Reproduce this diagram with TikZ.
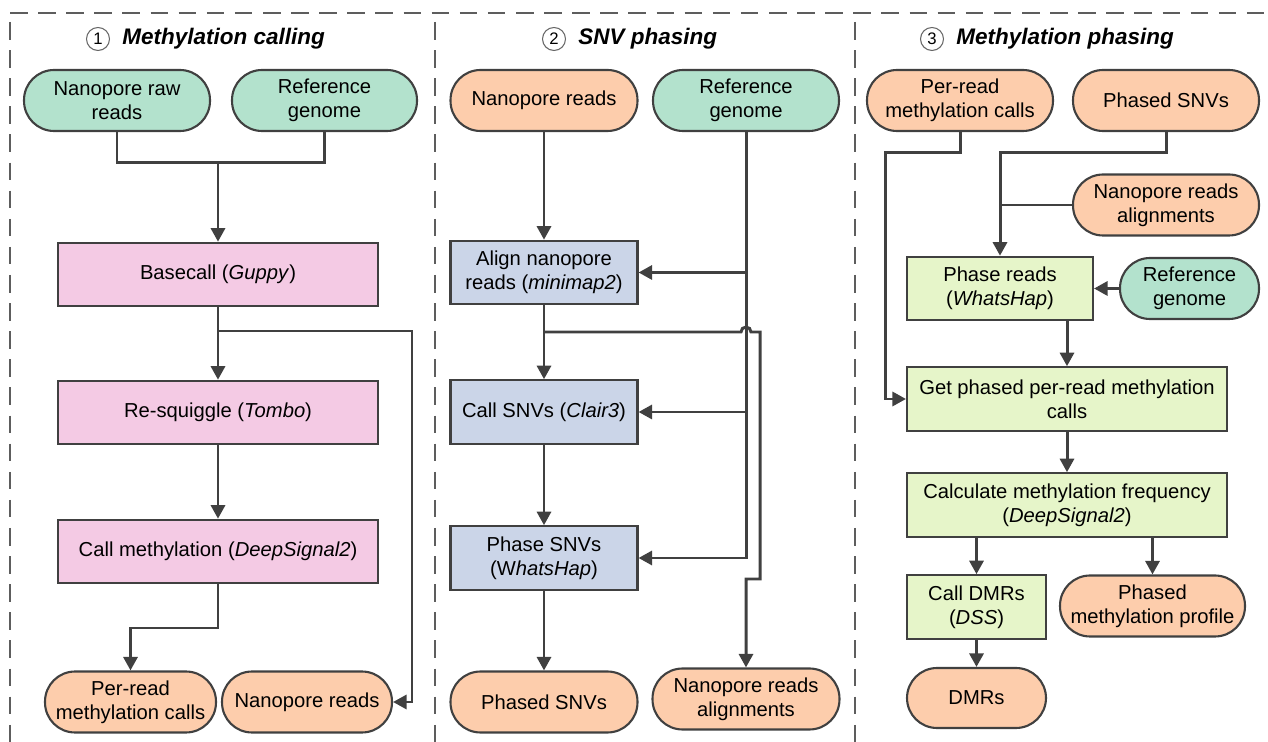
\documentclass[tikz,border=0pt]{standalone}
\usepackage{fontspec}
\setmainfont{Liberation Sans}
\usetikzlibrary{arrows.meta, calc, positioning}
\definecolor{mint}{HTML}{B3E2CD}
\definecolor{peach}{HTML}{FDCDAC}
\definecolor{lilac}{HTML}{CBD5E8}
\definecolor{rosepink}{HTML}{F4CAE4}
\definecolor{palelime}{HTML}{E6F5C9}
\definecolor{linegray}{HTML}{404040}
\tikzstyle{inout} = [rectangle, rounded corners=0.6cm, draw=linegray, line width=1.2pt,
	align=center, minimum height=1.22cm, inner sep=1pt]
\tikzstyle{proc} = [rectangle, draw=linegray, line width=1.2pt, align=center,
	minimum height=1.27cm, inner sep=1pt]
\tikzstyle{link} = [draw=linegray, line width=1.7pt]
\tikzstyle{arrow} = [link, -{Triangle[length=0.27cm, width=0.28cm]}]
\tikzstyle{frame} = [draw=linegray!85, line width=1.1pt, dash pattern=on 10pt off 6pt]
\tikzstyle{numcirc} = [circle, draw=linegray!80, fill=white, line width=0.6pt,
	minimum size=0.46cm, inner sep=0pt, font=\fontsize{9.5}{9.5}\selectfont]
\tikzstyle{title} = [inner sep=0pt, font=\fontsize{12.8}{14}\selectfont\bfseries\itshape]

\begin{document}
\begin{tikzpicture}[x=0.02cm, y=-0.02cm, font=\fontsize{11.5}{13.6}\selectfont]
	\useasboundingbox (0,0) rectangle (1268,742);

	% dashed frame
	\draw[frame] (10,13) -- (1268,13);
	\draw[frame] (10,22) -- (10,742);
	\draw[frame] (435,22) -- (435,742);
	\draw[frame] (855,22) -- (855,742);

	% 1 methylation calling
	\node[numcirc] (n1) at (98,39) {1};
	\node[title, right=0.24cm of n1] {Methylation calling};

	\node (rawreads) [inout, fill=mint, minimum width=3.72cm] at (117,100.5) {Nanopore raw\\reads};
	\node (refA) [inout, fill=mint, minimum width=3.7cm] at (324.5,100.5) {Reference\\genome};
	\node (basecall) [proc, fill=rosepink, minimum width=6.4cm] at (218,274.5) {Basecall (\textit{Guppy})};
	\node (resquiggle) [proc, fill=rosepink, minimum width=6.4cm] at (218,412.5) {Re-squiggle (\textit{Tombo})};
	\node (callmeth) [proc, fill=rosepink, minimum width=6.4cm] at (218,551.5) {Call methylation (\textit{DeepSignal2})};
	\node (permeth) [inout, fill=peach, minimum width=3.42cm] at (130.5,702) {Per-read\\methylation calls};
	\node (rawout) [inout, fill=peach, minimum width=3.4cm] at (307,702) {Nanopore reads};

	\coordinate (j1) at (218,163);
	\coordinate (b1) at (218,331);
	\coordinate (b1r) at (412,331);
	\coordinate (c1) at (218,628);
	\draw[link] (rawreads.south) |- (j1) -| (refA.south);
	\draw[arrow] (j1) -- (basecall.north);
	\draw[arrow] (basecall) -- (resquiggle);
	\draw[arrow] (resquiggle) -- (callmeth);
	\draw[arrow] (b1) -- (b1r) |- (rawout.east);
	\draw[arrow] (callmeth.south) -- (c1) -| (permeth.north);

	% 2 SNV phasing
	\node[numcirc] (n2) at (554,39) {2};
	\node[title, right=0.24cm of n2] {SNV phasing};

	\node (nreads2) [inout, fill=peach, minimum width=3.74cm] at (544,100.5) {Nanopore reads};
	\node (ref2) [inout, fill=mint, minimum width=3.72cm] at (746,100.5) {Reference\\genome};
	\node (align) [proc, fill=lilac, minimum width=3.74cm] at (544,272.5) {Align nanopore\\reads (\textit{minimap2})};
	\node (callsnv) [proc, fill=lilac, minimum width=3.74cm] at (544,412) {Call SNVs (\textit{Clair3})};
	\node (phasesnv) [proc, fill=lilac, minimum width=3.74cm] at (544,558) {Phase SNVs\\(W\textit{hatsHap})};
	\node (phasedsnv) [inout, fill=peach, minimum width=3.74cm] at (544,702) {Phased SNVs};
	\node (alignout) [inout, fill=peach, minimum width=3.74cm] at (746,699) {Nanopore reads\\alignments};

	\coordinate (a2) at (544,332);
	\coordinate (jump) at (746,332);
	\coordinate (a2r) at (760,332);
	\coordinate (a2b) at (760,579);
	\draw[arrow] (nreads2) -- (align);
	\draw[arrow] (align) -- (callsnv);
	\draw[arrow] (callsnv) -- (phasesnv);
	\draw[arrow] (phasesnv) -- (phasedsnv);
	\draw[arrow] (ref2.south) |- (phasesnv.east);
	\draw[arrow] (ref2.south |- align.east) -- (align.east);
	\draw[arrow] (ref2.south |- callsnv.east) -- (callsnv.east);
	\draw[arrow] (a2) -- ([xshift=-0.1cm]jump) arc[start angle=180, end angle=0, radius=0.1cm]
		-- (a2r) -- (a2b) -| (alignout.north);

	% 3 methylation phasing
	\node[numcirc] (n3) at (932,39) {3};
	\node[title, right=0.24cm of n3] {Methylation phasing};

	\node (permeth3) [inout, fill=peach, minimum width=3.72cm] at (960,100.5) {Per-read\\methylation calls};
	\node (phasedsnv3) [inout, fill=peach, minimum width=3.72cm] at (1166,100.5) {Phased SNVs};
	\node (nalign3) [inout, fill=peach, minimum width=3.72cm] at (1166,205) {Nanopore reads\\alignments};
	\node (phasereads) [proc, fill=palelime, minimum width=3.72cm] at (1000,288.5) {Phase reads\\(\textit{WhatsHap})};
	\node (ref3) [inout, fill=mint, minimum width=2.78cm] at (1189.5,288.5) {Reference\\genome};
	\node (getphased) [proc, fill=palelime, minimum width=6.4cm] at (1067,399) {Get phased per-read methylation\\calls};
	\node (calcfreq) [proc, fill=palelime, minimum width=6.4cm] at (1067,505) {Calculate methylation frequency\\(\textit{DeepSignal2})};
	\node (calldmr) [proc, fill=palelime, minimum width=2.78cm] at (976.5,607) {Call DMRs\\(\textit{DSS})};
	\node (phprofile) [inout, fill=peach, minimum width=3.7cm] at (1152.5,606) {Phased\\methylation profile};
	\node (dmrs) [inout, fill=peach, minimum width=2.78cm, minimum height=1.2cm] at (976.5,698) {DMRs};

	\coordinate (k1) at (885,153);
	\coordinate (k2) at (1000,153);
	\draw[arrow] (permeth3.south) |- (k1) |- (getphased.west);
	\draw[arrow] (phasedsnv3.south) |- (k2) -- (phasereads.north);
	\draw[link] (nalign3.west) -- (nalign3.west -| phasereads.north);
	\draw[arrow] (ref3) -- (phasereads);
	\draw[arrow] (phasereads.south -| getphased.north) -- (getphased.north);
	\draw[arrow] (getphased) -- (calcfreq);
	\draw[arrow] (calcfreq.south -| calldmr.north) -- (calldmr.north);
	\draw[arrow] (calcfreq.south -| phprofile.north) -- (phprofile.north);
	\draw[arrow] (calldmr) -- (dmrs);

\end{tikzpicture}
\end{document}
